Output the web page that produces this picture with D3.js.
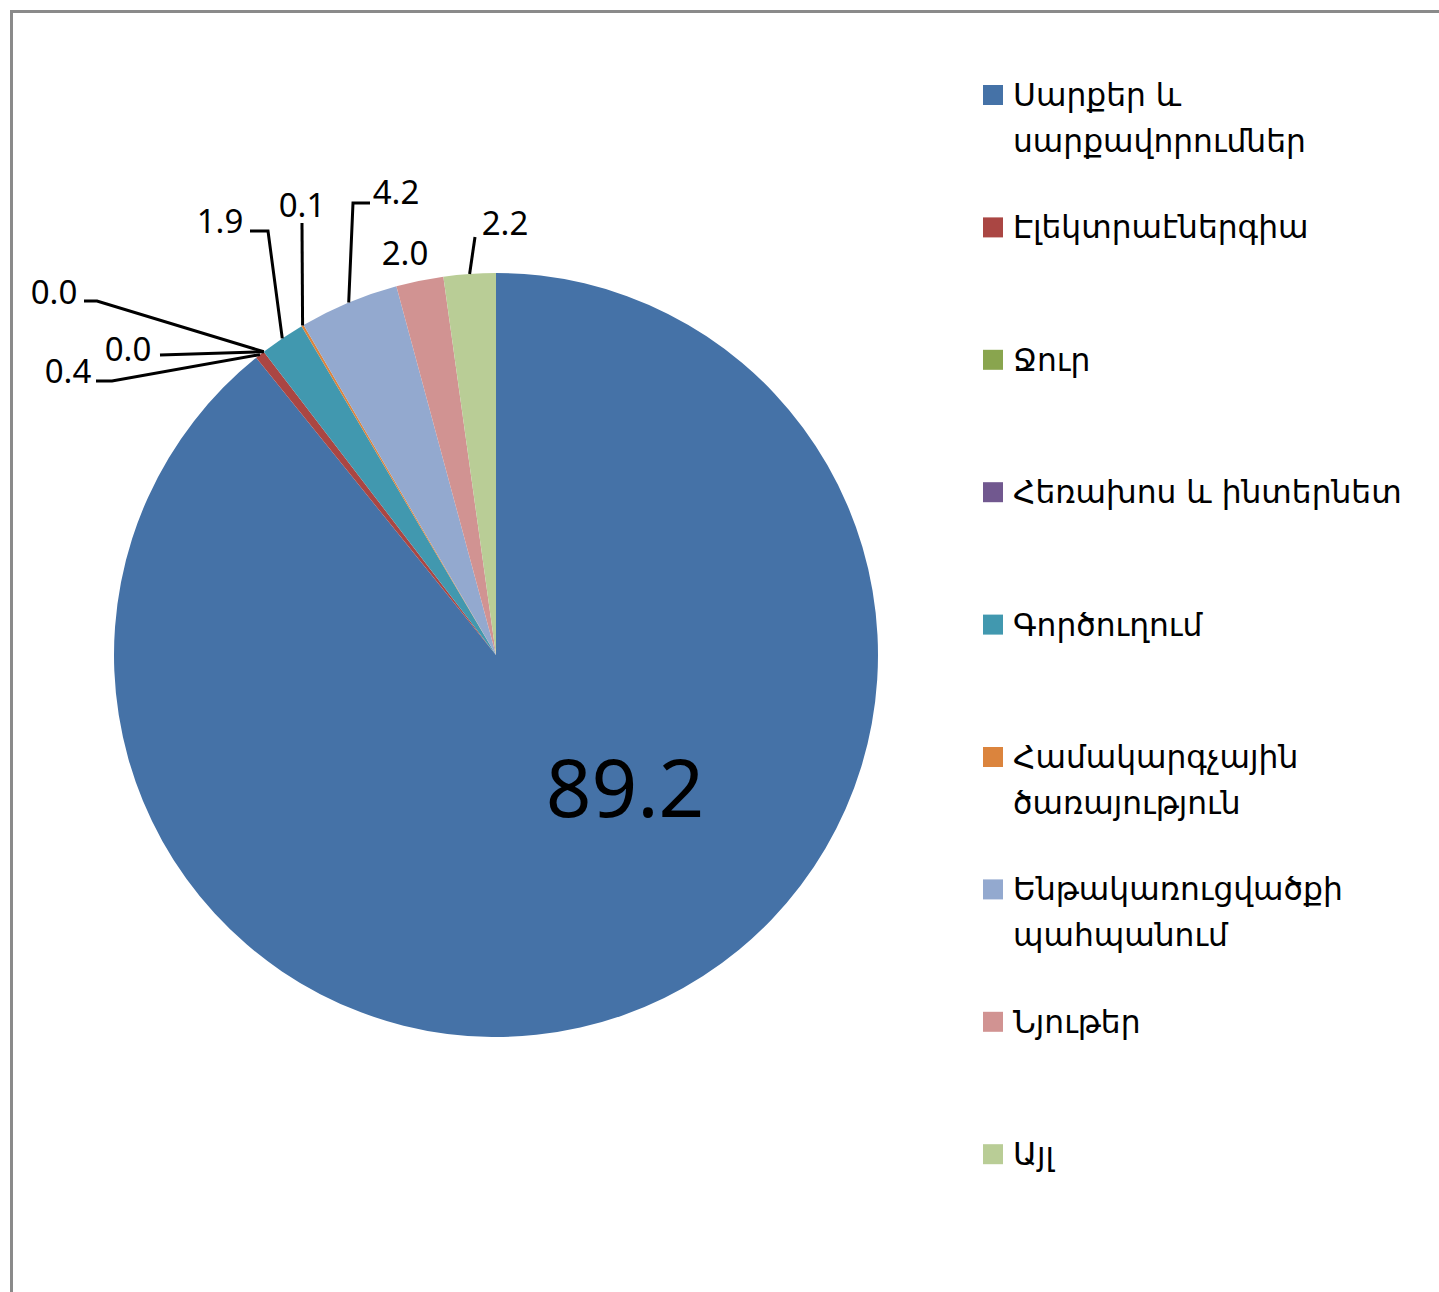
<!DOCTYPE html>
<html>
<head>
<meta charset="utf-8">
<script src="https://cdn.jsdelivr.net/npm/d3@7"></script>
<style>
  html, body { margin: 0; padding: 0; background: #ffffff; }
  svg { display: block; }
</style>
</head>
<body>
<svg id="chart" width="1439" height="1292"></svg>
<script>
// Expenditure structure, percent
const categories = [
  "Սարքեր և սարքավորումներ",
  "Էլեկտրաէներգիա",
  "Ջուր",
  "Հեռախոս և ինտերնետ",
  "Գործուղում",
  "Համակարգչային ծառայություն",
  "Ենթակառուցվածքի պահպանում",
  "Նյութեր",
  "Այլ"
];
const legendLines = [
  ["Սարքեր և", "սարքավորումներ"],
  ["Էլեկտրաէներգիա"],
  ["Ջուր"],
  ["Հեռախոս և ինտերնետ"],
  ["Գործուղում"],
  ["Համակարգչային", "ծառայություն"],
  ["Ենթակառուցվածքի", "պահպանում"],
  ["Նյութեր"],
  ["Այլ"]
];
const values = [89.2, 0.4, 0.0, 0.0, 1.9, 0.1, 4.2, 2.0, 2.2];
const colors = ["#4572A7", "#AA4643", "#89A54E", "#71588F", "#4198AF",
                "#DB843D", "#93A9CF", "#D19392", "#B9CD96"];

// Label placement: text anchor point (baseline) and leader bends toward the slice edge
const labelPlacement = [
  { x: 625, y: 817, size: 80, bends: null },
  { x: 68,  y: 383, size: 33, bends: [[96, 381], [112, 381]] },
  { x: 54,  y: 304, size: 33, bends: [[84, 301], [97, 301]] },
  { x: 128, y: 361, size: 33, bends: [[160, 355]] },
  { x: 220, y: 233, size: 33, bends: [[250, 231], [268, 231]] },
  { x: 302, y: 217, size: 33, bends: [[302, 223]] },
  { x: 396, y: 204, size: 33, bends: [[370, 203], [353, 203]] },
  { x: 405, y: 265, size: 33, bends: null },
  { x: 505, y: 235, size: 33, bends: [[475, 237]] }
];

const svg = d3.select("#chart");
const cx = 496, cy = 655, radius = 382;

// Frame
svg.append("line").attr("x1", 10).attr("y1", 11.5).attr("x2", 1439).attr("y2", 11.5)
  .attr("stroke", "#8a8a8a").attr("stroke-width", 3);
svg.append("line").attr("x1", 11.5).attr("y1", 10).attr("x2", 11.5).attr("y2", 1292)
  .attr("stroke", "#8a8a8a").attr("stroke-width", 3);

const data = categories.map((c, i) => ({ name: c, value: values[i], color: colors[i], i }));

const pie = d3.pie().sort(null).value(d => d.value);
const arcs = pie(data);
const arc = d3.arc().innerRadius(0).outerRadius(radius);

const g = svg.append("g").attr("transform", `translate(${cx},${cy})`);
g.selectAll("path.slice")
  .data(arcs)
  .join("path")
  .attr("class", "slice")
  .attr("d", arc)
  .attr("fill", d => d.data.color);

// Leader lines from slice edge to label
function edgePoint(a) {
  const mid = (a.startAngle + a.endAngle) / 2;
  return [cx + Math.sin(mid) * radius, cy - Math.cos(mid) * radius];
}
const line = d3.line();
arcs.forEach((a, i) => {
  const p = labelPlacement[i];
  if (!p.bends) return;
  const pts = p.bends.concat([edgePoint(a)]);
  svg.append("path")
    .attr("d", line(pts))
    .attr("fill", "none")
    .attr("stroke", "#000")
    .attr("stroke-width", 3)
    .attr("stroke-linejoin", "miter");
});

// Value labels
const fmt = d3.format(".1f");
svg.selectAll("text.val")
  .data(arcs)
  .join("text")
  .attr("class", "val")
  .attr("x", (d, i) => labelPlacement[i].x)
  .attr("y", (d, i) => labelPlacement[i].y)
  .attr("text-anchor", "middle")
  .attr("font-family", "'Noto Sans', 'Open Sans', sans-serif")
  .attr("font-size", (d, i) => labelPlacement[i].size)
  .attr("fill", "#000")
  .text(d => fmt(d.data.value));

// Legend
const legend = svg.append("g").attr("transform", "translate(983,95)");
const step = 132.4;
const item = legend.selectAll("g.item")
  .data(data)
  .join("g")
  .attr("class", "item")
  .attr("transform", (d, i) => `translate(0,${i * step})`);
item.append("rect")
  .attr("x", 0).attr("y", -10).attr("width", 20).attr("height", 20)
  .attr("fill", d => d.color);
item.each(function (d, i) {
  const t = d3.select(this).append("text")
    .attr("font-family", "'DejaVu Sans', 'Noto Sans', sans-serif")
    .attr("font-size", 31.3)
    .attr("fill", "#000");
  legendLines[i].forEach((ln, k) => {
    t.append("tspan").attr("x", 30).attr("y", 11 + k * 46).text(ln);
  });
});
</script>
</body>
</html>
